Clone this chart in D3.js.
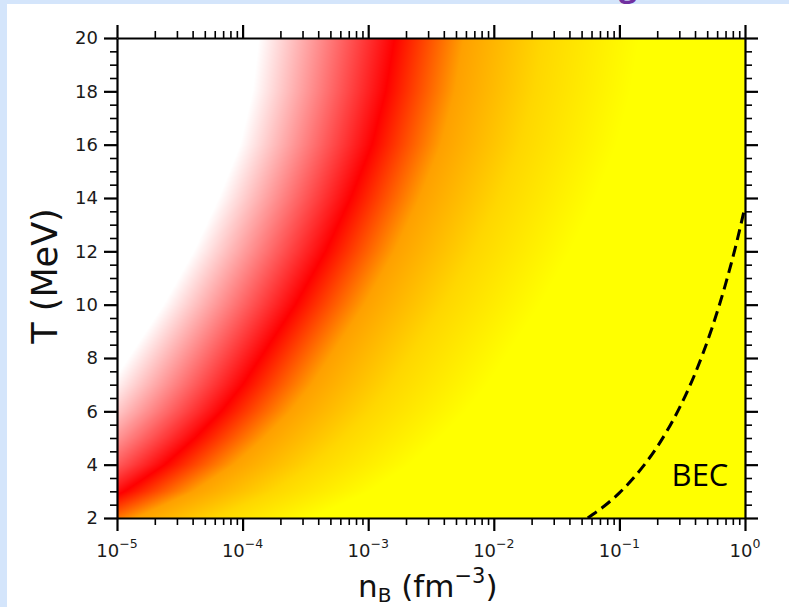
<!DOCTYPE html>
<html>
<head>
<meta charset="utf-8">
<script src="https://cdn.jsdelivr.net/npm/d3@7"></script>
<style>
  html, body { margin: 0; padding: 0; background: #ffffff; }
  svg { display: block; }
</style>
</head>
<body>
<svg id="chart" width="789" height="607"></svg>
<script>
// Temperature rows (MeV) at which the colour-band positions are tabulated
const tempRows   = [2, 3, 4, 5, 6, 7, 8, 10, 12, 14, 16, 18, 20];
// log10(nB / fm^-3) of each colour stop along those rows
const whiteEdge  = [-6.45, -5.99, -5.67, -5.43, -5.22, -5.05, -4.91, -4.63, -4.39, -4.19, -4.02, -3.92, -3.87];
const redCore    = [-5.40, -4.94, -4.62, -4.38, -4.17, -4.00, -3.86, -3.58, -3.34, -3.14, -2.97, -2.86, -2.79];
const orangeBand = [-4.85, -4.39, -4.07, -3.83, -3.62, -3.45, -3.31, -3.03, -2.79, -2.59, -2.42, -2.31, -2.24];
const goldBand   = [-4.22, -3.76, -3.44, -3.20, -2.99, -2.82, -2.68, -2.40, -2.16, -1.96, -1.79, -1.68, -1.61];
const yellowEdge = [-3.45, -2.99, -2.67, -2.43, -2.22, -2.05, -1.91, -1.63, -1.39, -1.19, -1.02, -0.91, -0.84];
const stopColors = ["#ffffff", "#ff0000", "#ffa000", "#ffd700", "#ffff00"];

// Bose-Einstein condensation boundary
const becDensity = [0.056, 0.075, 0.10, 0.15, 0.20, 0.30, 0.40, 0.55, 0.70, 0.85, 1.00];
const becTemp    = [2.00, 2.43, 2.94, 3.86, 4.67, 6.12, 7.41, 9.17, 10.77, 12.26, 13.67];

// Axis ticks
const xMajorExp  = [-5, -4, -3, -2, -1, 0];
const yMajor     = [2, 4, 6, 8, 10, 12, 14, 16, 18, 20];

const svg = d3.select("#chart");
const W = 789, H = 607;
const plot = { left: 117, right: 745, top: 38, bottom: 518 };

// page backdrop
svg.append("rect").attr("x", 0).attr("y", 0).attr("width", W).attr("height", H).attr("fill", "#d4e5fb");
svg.append("rect").attr("x", 7).attr("y", 4).attr("width", W - 7).attr("height", H - 4).attr("fill", "#ffffff");
svg.append("text").attr("x", 628).attr("y", -4).attr("text-anchor", "middle")
  .attr("font-family", "Open Sans").attr("font-weight", "bold").attr("font-size", 32)
  .attr("fill", "#7030a0").text("g");

const x = d3.scaleLog().domain([1e-5, 1]).range([plot.left, plot.right]);
const y = d3.scaleLinear().domain([2, 20]).range([plot.bottom, plot.top]);

// ---- colour field ----
const pw = plot.right - plot.left, ph = plot.bottom - plot.top;
const canvas = document.createElement("canvas");
canvas.width = pw; canvas.height = ph;
const ctx = canvas.getContext("2d");
const img = ctx.createImageData(pw, ph);
const bandScales = [whiteEdge, redCore, orangeBand, goldBand, yellowEdge]
  .map(arr => d3.scaleLinear().domain(tempRows).range(arr));
const rgbStops = stopColors.map(c => { const r = d3.rgb(c); return [r.r, r.g, r.b]; });
for (let py = 0; py < ph; py++) {
  const T = y.invert(plot.top + py + 0.5);
  const stops = bandScales.map(s => s(T));
  const col = d3.scaleLinear().domain(stops).range(rgbStops).clamp(true);
  for (let px = 0; px < pw; px++) {
    const ln = Math.log10(x.invert(plot.left + px + 0.5));
    const c = col(ln);
    const i = (py * pw + px) * 4;
    img.data[i] = c[0]; img.data[i + 1] = c[1]; img.data[i + 2] = c[2]; img.data[i + 3] = 255;
  }
}
ctx.putImageData(img, 0, 0);
svg.append("image")
  .attr("x", plot.left).attr("y", plot.top).attr("width", pw).attr("height", ph)
  .attr("preserveAspectRatio", "none")
  .attr("href", canvas.toDataURL());

// ---- BEC boundary ----
svg.append("clipPath").attr("id", "plotClip").append("rect")
  .attr("x", plot.left).attr("y", plot.top).attr("width", pw).attr("height", ph);
const becLine = d3.line().x(d => x(d[0])).y(d => y(d[1])).curve(d3.curveMonotoneX);
svg.append("path")
  .datum(becDensity.map((n, i) => [n, becTemp[i]]))
  .attr("clip-path", "url(#plotClip)")
  .attr("d", becLine)
  .attr("fill", "none").attr("stroke", "#000").attr("stroke-width", 3)
  .attr("stroke-dasharray", "11,6");

svg.append("text").attr("x", 700).attr("y", 486).attr("text-anchor", "middle")
  .attr("font-family", "Open Sans").attr("font-size", 31).attr("fill", "#000").text("BEC");

// ---- axes ----
const xMajors = xMajorExp.map(e => Math.pow(10, e));
const xMinors = [];
xMajorExp.slice(0, -1).forEach(e => { for (let k = 2; k <= 9; k++) xMinors.push(k * Math.pow(10, e)); });
const yMinors = d3.range(2, 20.01, 0.5).filter(v => !yMajor.includes(v));

const axisSpecs = [
  [d3.axisBottom(x), `translate(0,${plot.bottom})`, xMajors, xMinors],
  [d3.axisTop(x),    `translate(0,${plot.top})`,    xMajors, xMinors],
  [d3.axisLeft(y),   `translate(${plot.left},0)`,   yMajor,  yMinors],
  [d3.axisRight(y),  `translate(${plot.right},0)`,  yMajor,  yMinors]
];
axisSpecs.forEach(([ax, tr, maj, min]) => {
  const gMin = svg.append("g").attr("transform", tr).call(ax.tickValues(min).tickSize(7).tickSizeOuter(0).tickFormat(""));
  gMin.select(".domain").remove();
  gMin.selectAll("line").attr("stroke", "#000").attr("stroke-width", 1.6);
  const gMaj = svg.append("g").attr("transform", tr).call(ax.tickValues(maj).tickSize(13).tickSizeOuter(0).tickFormat(""));
  gMaj.select(".domain").attr("stroke", "#000").attr("stroke-width", 2.2);
  gMaj.selectAll("line").attr("stroke", "#000").attr("stroke-width", 2.2);
});

// tick labels
const lab = svg.append("g").attr("font-family", "DejaVu Sans").attr("fill", "#1a1a1a");
yMajor.forEach(v => {
  lab.append("text").attr("x", plot.left - 19).attr("y", y(v)).attr("dy", "0.36em")
    .attr("text-anchor", "end").attr("font-size", 18).text(v);
});
xMajorExp.forEach(e => {
  const t = lab.append("text").attr("x", x(Math.pow(10, e))).attr("y", 557)
    .attr("text-anchor", "middle").attr("font-size", 18);
  t.append("tspan").text("10");
  t.append("tspan").attr("font-size", 12.5).attr("dy", -9).text(e === 0 ? "0" : "\u2212" + (-e));
});

// axis titles
const xt = svg.append("text").attr("x", 358).attr("y", 597)
  .attr("font-family", "DejaVu Sans").attr("font-size", 31).attr("fill", "#111");
xt.append("tspan").text("n");
xt.append("tspan").attr("font-size", 20).attr("dy", 5).text("B");
xt.append("tspan").attr("dy", -5).text("\u00a0(fm");
xt.append("tspan").attr("font-size", 21).attr("dy", -14).text("\u22123");
xt.append("tspan").attr("dy", 14).text(")");

svg.append("text").attr("transform", "translate(57,276) rotate(-90)")
  .attr("text-anchor", "middle").attr("font-family", "DejaVu Sans").attr("font-size", 35)
  .attr("fill", "#111").text("T (MeV)");
</script>
</body>
</html>
